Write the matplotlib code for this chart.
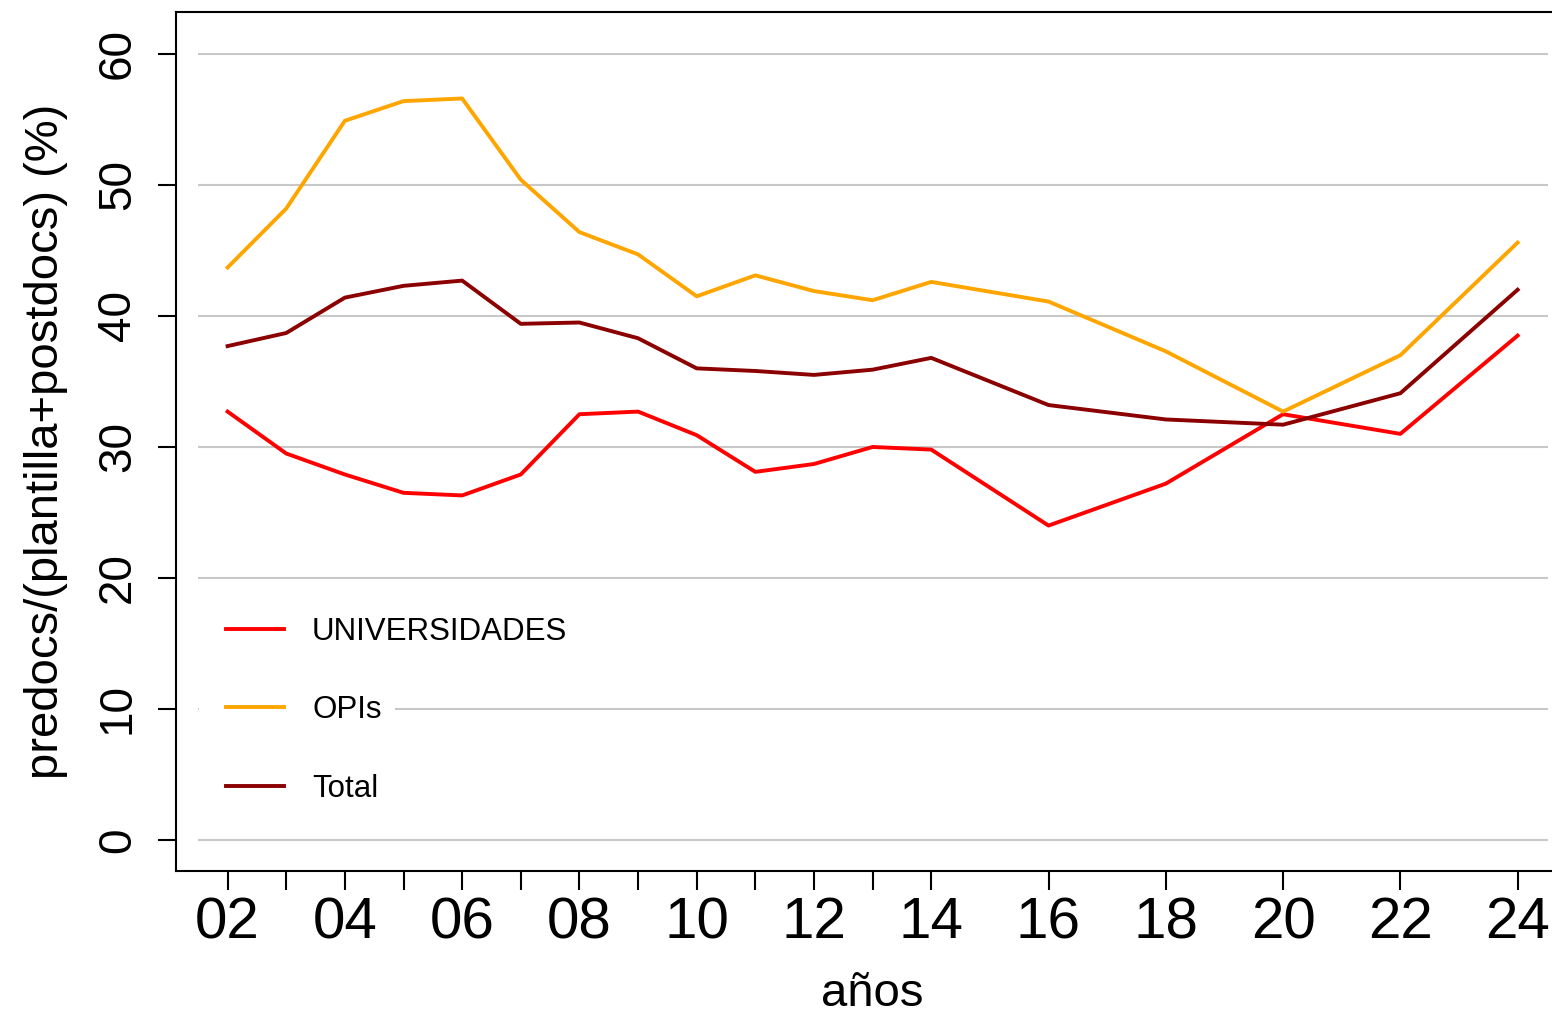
import matplotlib
matplotlib.use('Agg')
import matplotlib.pyplot as plt
from matplotlib.patches import Rectangle

plt.rcParams['font.family'] = ['Liberation Sans', 'DejaVu Sans']

# years (2-digit) and series values (%)
years = [2, 3, 4, 5, 6, 7, 8, 9, 10, 11, 12, 13, 14, 16, 18, 20, 22, 24]
universidades = [32.7, 29.5, 27.9, 26.5, 26.3, 27.9, 32.5, 32.7, 30.9, 28.1,
                 28.7, 30.0, 29.8, 24.0, 27.2, 32.5, 31.0, 38.5]
opis = [43.7, 48.2, 54.9, 56.4, 56.6, 50.4, 46.4, 44.7, 41.5, 43.1,
        41.9, 41.2, 42.6, 41.1, 37.3, 32.7, 37.0, 45.6]
total = [37.7, 38.7, 41.4, 42.3, 42.7, 39.4, 39.5, 38.3, 36.0, 35.8,
         35.5, 35.9, 36.8, 33.2, 32.1, 31.7, 34.1, 42.0]
labels = ['UNIVERSIDADES', 'OPIs', 'Total']
colors = ['red', 'orange', 'darkred']
yticks = [0, 10, 20, 30, 40, 50, 60]
xlabels = [f'{y:02d}' if y % 2 == 0 else '' for y in years]

fig = plt.figure(figsize=(15.52, 10.19), dpi=100)
ax = fig.add_axes([0.1134, 0.1452, 0.8977, 0.843])

ax.hlines(yticks, 1.49, 24.51, color='#c8c8c8', lw=1.5, zorder=1)
# white patch behind the legend (hides part of the grid)
ax.add_patch(Rectangle((0.0165, 0.065), 0.141, 0.25, transform=ax.transAxes,
                       facecolor='white', edgecolor='none', zorder=1.5))

for vals, lab, c in zip([universidades, opis, total], labels, colors):
    ax.plot(years, vals, color=c, lw=2.8, label=lab, zorder=3)

ax.set_xlim(1.12, 24.88)
ax.set_ylim(-2.37, 63.2)
ax.set_xticks(years)
ax.set_xticklabels(xlabels)
ax.set_yticks(yticks)
ax.set_yticklabels([str(v) for v in yticks], rotation=90, va='center')
ax.tick_params(axis='x', length=14, width=1.5, labelsize=42, pad=4)
ax.tick_params(axis='y', length=13, width=1.5, labelsize=33, pad=13)
for s in ax.spines.values():
    s.set_linewidth(1.5)
ax.spines['right'].set_visible(False)

ax.set_xlabel('años', fontsize=34, labelpad=16)
ax.set_ylabel('predocs/(plantilla+postdocs) (%)', fontsize=34, labelpad=20)

leg = ax.legend(loc='upper left', bbox_to_anchor=(0.036, 0.296), frameon=False,
                fontsize=22.5, handlelength=1.85, handletextpad=0.9,
                labelspacing=1.55, borderpad=0, borderaxespad=0)

fig.savefig('out.png', dpi=100)
